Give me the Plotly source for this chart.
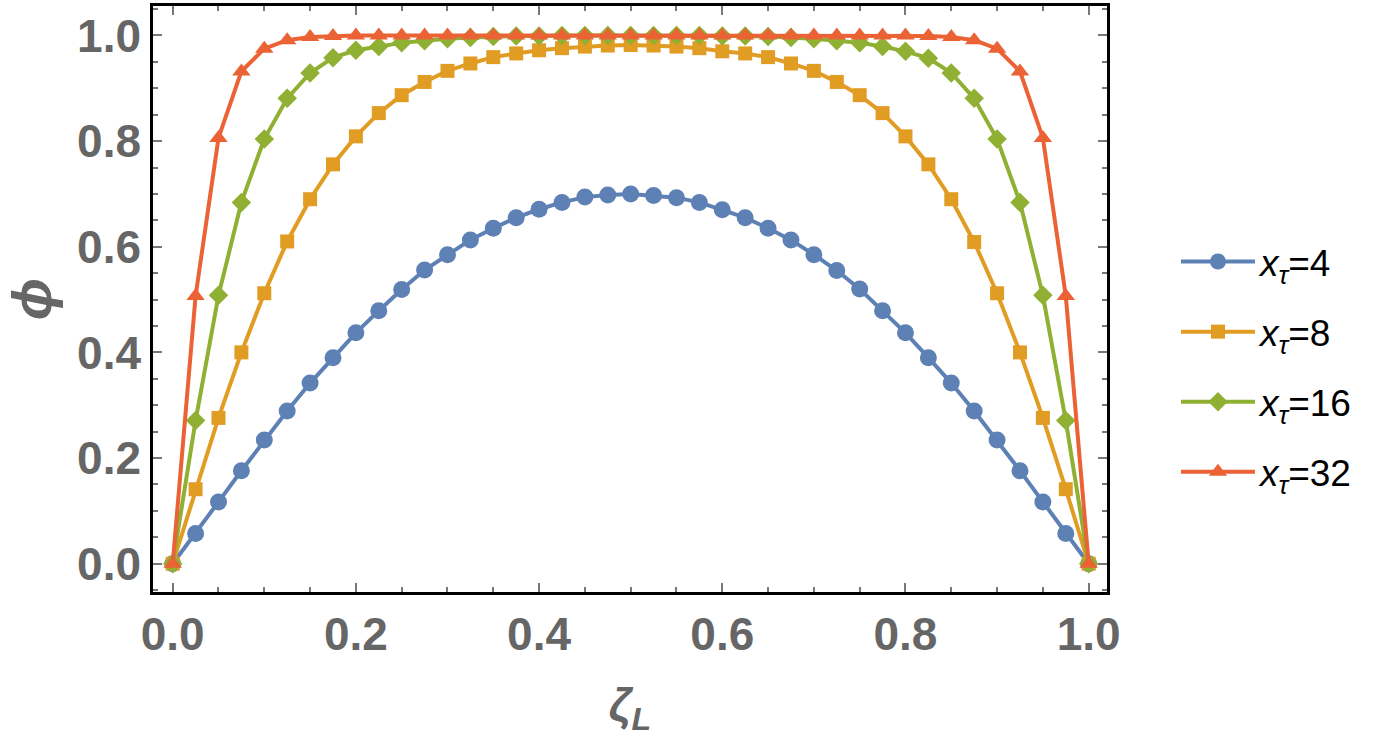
import plotly.graph_objects as go

zeta = [0.0, 0.025, 0.05, 0.075, 0.1, 0.125, 0.15, 0.175, 0.2, 0.225,
        0.25, 0.275, 0.3, 0.325, 0.35, 0.375, 0.4, 0.425, 0.45, 0.475,
        0.5, 0.525, 0.55, 0.575, 0.6, 0.625, 0.65, 0.675, 0.7, 0.725,
        0.75, 0.775, 0.8, 0.825, 0.85, 0.875, 0.9, 0.925, 0.95, 0.975, 1.0]

phi_4 = [0, 0.057, 0.117, 0.176, 0.234, 0.289, 0.342, 0.390, 0.437, 0.479,
         0.519, 0.556, 0.585, 0.613, 0.635, 0.655, 0.671, 0.684, 0.694, 0.698,
         0.700, 0.697, 0.693, 0.684, 0.670, 0.655, 0.635, 0.613, 0.585, 0.555,
         0.520, 0.479, 0.437, 0.390, 0.342, 0.289, 0.234, 0.176, 0.117, 0.057, 0]

phi_8 = [0, 0.141, 0.276, 0.400, 0.512, 0.610, 0.690, 0.756, 0.809, 0.853,
         0.887, 0.912, 0.933, 0.947, 0.959, 0.966, 0.972, 0.976, 0.979, 0.981,
         0.982, 0.981, 0.979, 0.976, 0.970, 0.966, 0.959, 0.947, 0.933, 0.912,
         0.887, 0.853, 0.809, 0.756, 0.690, 0.609, 0.512, 0.400, 0.276, 0.141, 0]

phi_16 = [0, 0.271, 0.508, 0.684, 0.804, 0.881, 0.929, 0.958, 0.972, 0.979,
          0.986, 0.990, 0.994, 0.996, 0.998, 0.999, 0.999, 1.0, 1.0, 1.0,
          1.0, 1.0, 1.0, 1.0, 0.999, 0.999, 0.998, 0.996, 0.994, 0.990,
          0.986, 0.979, 0.970, 0.957, 0.929, 0.881, 0.804, 0.684, 0.508, 0.271, 0]

phi_32 = [0, 0.507, 0.806, 0.932, 0.975, 0.991, 0.997, 0.999, 1.0, 1.0,
          1.0, 1.0, 1.0, 1.0, 1.0, 1.0, 1.0, 1.0, 1.0, 1.0,
          1.0, 1.0, 1.0, 1.0, 1.0, 1.0, 1.0, 1.0, 1.0, 1.0,
          1.0, 1.0, 1.0, 0.999, 0.997, 0.991, 0.975, 0.932, 0.806, 0.507, 0]

series_labels = ["<i>x</i><sub><i>τ</i></sub>=4", "<i>x</i><sub><i>τ</i></sub>=8",
                 "<i>x</i><sub><i>τ</i></sub>=16", "<i>x</i><sub><i>τ</i></sub>=32"]
series_values = [phi_4, phi_8, phi_16, phi_32]
colors = ["#5E81B5", "#E19C24", "#8FB032", "#EB6235"]
symbols = ["circle", "square", "diamond", "triangle-up"]
sizes = [17, 14, 15, 16]

fig = go.Figure()
for i, (lab, vals) in enumerate(zip(series_labels, series_values)):
    fig.add_trace(go.Scatter(
        x=zeta, y=vals, mode="lines+markers", name=lab,
        legendgroup=f"g{i}",
        line=dict(color=colors[i], width=4),
        marker=dict(color=colors[i], symbol=symbols[i], size=sizes[i], line=dict(width=0)),
    ))

tickfont = dict(family="Liberation Sans, Arial, sans-serif", size=46, color="#666666", weight="bold")
axis_common = dict(
    showline=True, linecolor="black", linewidth=2.5, mirror="ticks",
    ticks="inside", ticklen=9, tickwidth=2, tickcolor="#777777",
    showgrid=False, zeroline=False, tickfont=tickfont,
    minor=dict(dtick=0.05, ticks="inside", ticklen=5, tickwidth=1.5, tickcolor="#777777"),
)

fig.update_xaxes(range=[-0.0215, 1.02], dtick=0.2, tick0=0, tickformat=".1f",
                 title=dict(text="<b><i>ζ</i><sub><i>L</i></sub></b>",
                            font=dict(family="Liberation Sans, Arial, sans-serif", size=46, color="#666666"),
                            standoff=30),
                 **axis_common)
fig.update_yaxes(range=[-0.0536, 1.0558], dtick=0.2, tick0=0, tickformat=".1f",
                 title=dict(text="<b><i>ϕ</i></b>",
                            font=dict(family="Liberation Sans, Arial, sans-serif", size=56, color="#666666"),
                            standoff=14),
                 **axis_common)

fig.update_layout(
    width=1375, height=744,
    margin=dict(l=153, r=268, t=3, b=152),
    plot_bgcolor="white", paper_bgcolor="white",
    showlegend=True,
    legend=dict(x=1.0723, y=0.384, xanchor="left", yanchor="middle",
                font=dict(family="Liberation Sans, Arial, sans-serif", size=37, color="black"),
                tracegroupgap=19, bgcolor="rgba(0,0,0,0)", itemwidth=74),
)

fig.write_html("out.html")
